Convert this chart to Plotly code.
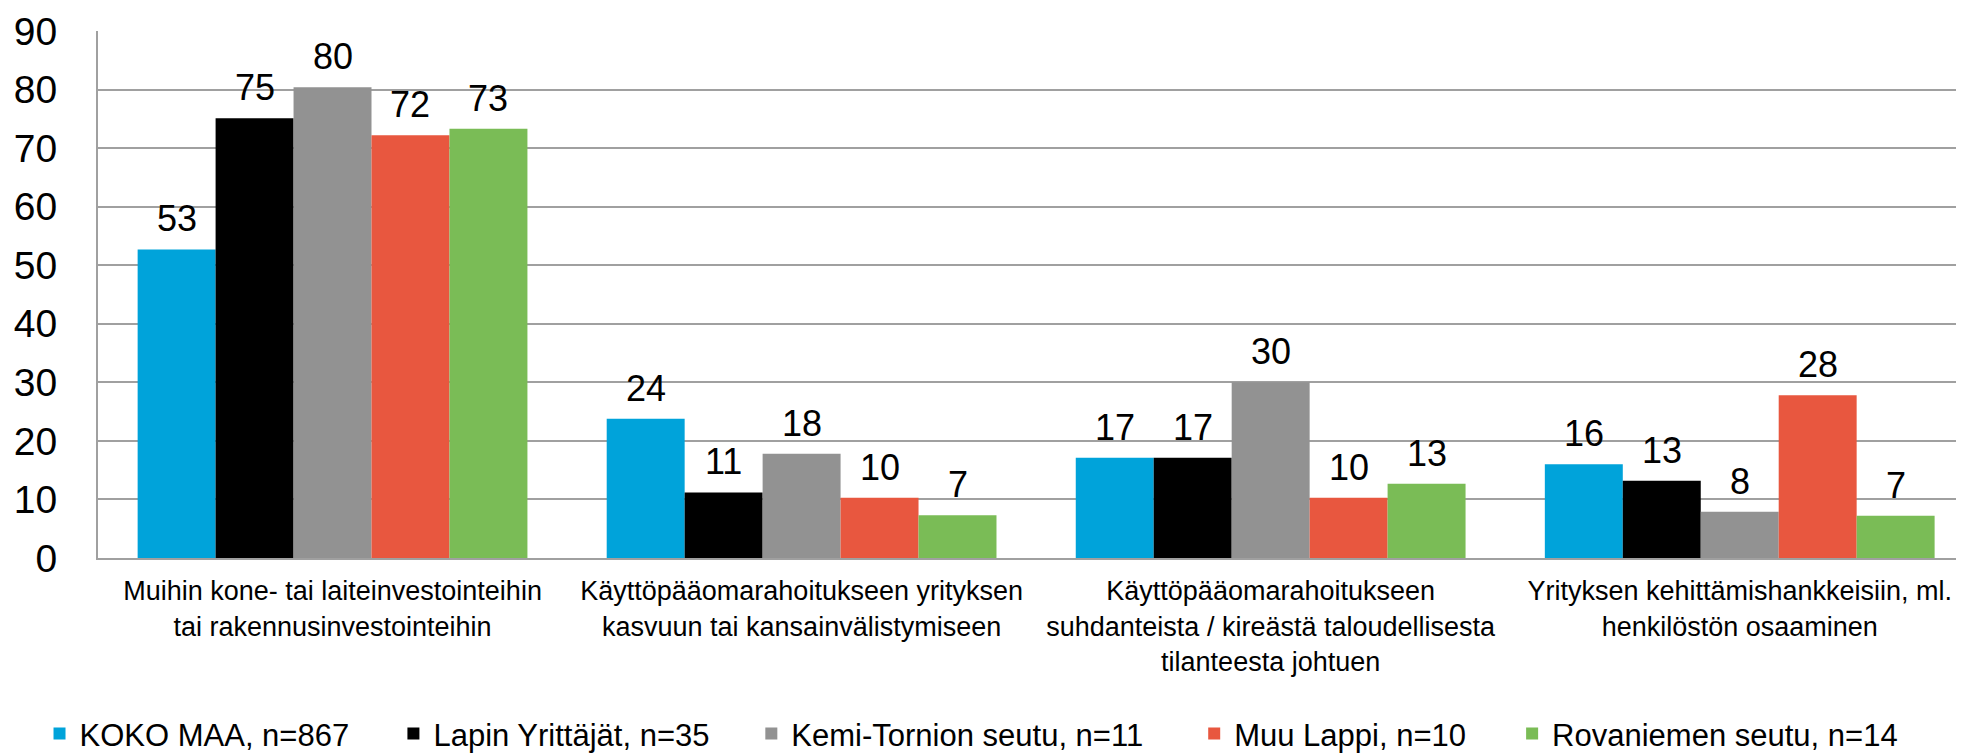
import plotly.graph_objects as go

categories = [
    "Muihin kone- tai laiteinvestointeihin<br>tai rakennusinvestointeihin",
    "Käyttöpääomarahoitukseen yrityksen<br>kasvuun tai kansainvälistymiseen",
    "Käyttöpääomarahoitukseen<br>suhdanteista / kireästä taloudellisesta<br>tilanteesta johtuen",
    "Yrityksen kehittämishankkeisiin, ml.<br>henkilöstön osaaminen",
]

series_names = [
    "KOKO MAA, n=867",
    "Lapin Yrittäjät, n=35",
    "Kemi-Tornion seutu, n=11",
    "Muu Lappi, n=10",
    "Rovaniemen seutu, n=14",
]

koko_maa = [52.7, 23.8, 17.1, 16.0]
lapin_yrittajat = [75.1, 11.2, 17.1, 13.2]
kemi_tornio = [80.4, 17.8, 30.0, 7.9]
muu_lappi = [72.2, 10.3, 10.3, 27.8]
rovaniemi = [73.3, 7.3, 12.7, 7.2]

series_values = [koko_maa, lapin_yrittajat, kemi_tornio, muu_lappi, rovaniemi]
colors = ["#00A3DA", "#000000", "#929292", "#E8573F", "#7ABC56"]

y_ticks = [0, 10, 20, 30, 40, 50, 60, 70, 80, 90]

FONT = "Arial, Liberation Sans, sans-serif"

# The page body has the browser's default 8px margin, so the figure is made
# 8px smaller and all page-pixel targets are shifted by that offset.
PAGE_W, PAGE_H = 1964, 755
OFF = 8
W, H = PAGE_W - OFF, PAGE_H - OFF
PLOT_L, PLOT_R, PLOT_T, PLOT_B = 97.5, 1963, 30.6, 558   # page pixels
ML = PLOT_L - OFF
MR = W - (PLOT_R - OFF)
MT = PLOT_T - OFF
MB = H - (PLOT_B - OFF)
plot_w = W - ML - MR
plot_h = H - MT - MB
BARGAP = 0.169
N = len(series_names)

fig = go.Figure()

for i, (name, vals, col) in enumerate(zip(series_names, series_values, colors)):
    lg = "legend" if i == 0 else f"legend{i+1}"
    fig.add_trace(go.Bar(
        x=categories, y=vals, name=name,
        marker=dict(color=col, line=dict(width=0)),
        legend=lg,
        hoverinfo="skip",
    ))

# value labels as annotations positioned on the data scales
bw = (1 - BARGAP) / N
for i, vals in enumerate(series_values):
    for c, v in enumerate(vals):
        fig.add_annotation(
            x=c + (i - (N - 1) / 2) * bw, y=v, xref="x", yref="y",
            text=f"{v:.0f}", showarrow=False, yanchor="bottom", yshift=8,
            font=dict(family=FONT, size=36, color="#000000"),
        )

# one legend per series so each entry sits where the reference has it
legend_text_page_x = [81, 435, 793, 1236, 1554]
LEGEND_CENTER_PAGE_Y = 734
legend_layouts = {}
for i in range(N):
    key = "legend" if i == 0 else f"legend{i+1}"
    legend_layouts[key] = dict(
        orientation="h",
        x=(legend_text_page_x[i] - OFF - 42 - ML) / plot_w,
        xanchor="left",
        y=-(LEGEND_CENTER_PAGE_Y - PLOT_B) / plot_h, yanchor="middle",
        font=dict(family=FONT, size=31, color="#000000"),
        bgcolor="rgba(0,0,0,0)",
        itemclick=False, itemdoubleclick=False,
    )

fig.update_layout(
    width=W, height=H,
    margin=dict(l=ML, r=MR, t=MT, b=MB, pad=0, autoexpand=False),
    paper_bgcolor="white", plot_bgcolor="white",
    barmode="group", bargap=BARGAP, bargroupgap=0,
    showlegend=True,
    font=dict(family=FONT, color="#000000"),
    **legend_layouts,
)

fig.update_xaxes(
    type="category",
    range=[-0.5, 3.476],
    showgrid=False,
    showline=True, linecolor="#A0A0A0", linewidth=2,
    ticks="", ticklabelstandoff=8,
    tickfont=dict(family=FONT, size=27, color="#000000"),
    automargin=False,
    fixedrange=True,
)
fig.update_yaxes(
    range=[0, 90],
    tickvals=y_ticks, ticktext=[str(t) for t in y_ticks],
    showgrid=True, gridcolor="#A0A0A0", gridwidth=2,
    showline=True, linecolor="#A0A0A0", linewidth=2,
    zeroline=False,
    ticks="", ticklabelstandoff=31,
    tickfont=dict(family=FONT, size=39, color="#000000"),
    automargin=False,
    fixedrange=True,
)

fig.write_html("out.html", config={"displayModeBar": False})
